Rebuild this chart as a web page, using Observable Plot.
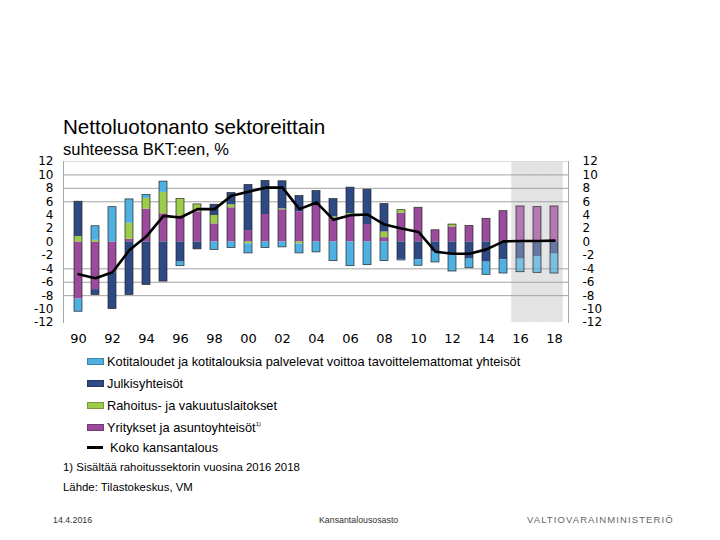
<!DOCTYPE html>
<html>
<head>
<meta charset="utf-8">
<script src="https://cdn.jsdelivr.net/npm/d3@7"></script>
<script src="https://cdn.jsdelivr.net/npm/@observablehq/plot@0.6"></script>
<style>
  body { margin: 0; background: #fff; }
  #wrap { position: relative; width: 720px; height: 540px; overflow: hidden; background: #fff;
          font-family: "Liberation Sans", Arial, sans-serif; color: #000; }
  .abs { position: absolute; white-space: nowrap; line-height: 1; }
  #chart { position: absolute; left: 0; top: 0; }
  .row { position: absolute; left: 87px; height: 16px; display: flex; align-items: center; font-size: 12.8px; white-space: nowrap; }
  .sw { width: 15px; height: 5px; margin-right: 3px; }
  .ln { width: 16px; height: 3px; background: #000; margin-right: 7px; }
</style>
</head>
<body>
<div id="wrap">
  <div id="chart"></div>
  <div class="abs" style="left:63px; top:117px; font-size:20.6px;">Nettoluotonanto sektoreittain</div>
  <div class="abs" style="left:63px; top:141px; font-size:16.5px;">suhteessa BKT:een, %</div>
  <div id="legend"></div>
  <div class="abs" style="left:63px; top:462px; font-size:11.4px;">1) Sisältää rahoitussektorin vuosina 2016 2018</div>
  <div class="abs" style="left:63px; top:482px; font-size:11.4px;">Lähde: Tilastokeskus, VM</div>
  <div class="abs" style="left:53px; top:516px; font-size:8.8px; color:#333;">14.4.2016</div>
  <div class="abs" style="left:319px; top:516px; font-size:8.8px; color:#333;">Kansantalousosasto</div>
  <div class="abs" style="left:527px; top:515px; font-size:9.5px; color:#666; letter-spacing:1.1px;">VALTIOVARAINMINISTERIÖ</div>
</div>
<script>
// ---- data ----
const years = [1990,1991,1992,1993,1994,1995,1996,1997,1998,1999,2000,2001,2002,2003,2004,
               2005,2006,2007,2008,2009,2010,2011,2012,2013,2014,2015,2016,2017,2018];
const forecastYears = [2016, 2017, 2018];

const seriesKoti = "Kotitaloudet ja kotitalouksia palvelevat voittoa tavoittelemattomat yhteisöt";
const seriesJulkis = "Julkisyhteisöt";
const seriesRahoitus = "Rahoitus- ja vakuutuslaitokset";
const seriesYritykset = "Yritykset ja asuntoyhteisöt";
const lineLabel = "Koko kansantalous";

const yritykset = [-8.5,-7.1,-4.6,0.4,4.9,4.2,3.9,4.5,2.7,5.1,1.7,4.1,4.8,4.5,5.5,
                   3.6,4.1,2.6,0.65,4.3,5.1,1.75,2.25,2.4,3.45,4.6,5.3,5.2,5.3];
const rahoitus  = [0.8,0.25,0,2.4,1.6,3.2,2.5,1.1,1.25,0.45,-0.3,0,0.15,-0.3,0,
                   0.15,0.15,0,0.85,0.45,0,0,0.35,0,0,0,0,0,0];
const julkis    = [5.2,-0.8,-5.4,-7.9,-6.4,-5.9,-3.0,-1.1,1.6,1.75,6.8,5.0,4.1,2.35,2.1,
                   2.65,3.85,5.2,4.15,-2.6,-2.65,-1.45,-1.9,-2.55,-3.0,-2.65,-2.55,-2.2,-1.8];
const koti      = [-1.9,2.1,5.2,3.55,0.5,1.6,-0.6,0,-1.2,-0.9,-1.4,-0.9,-0.8,-1.4,-1.55,
                   -2.85,-3.6,-3.45,-2.85,-0.15,-0.9,-1.6,-2.5,-1.35,-1.9,-2.05,-1.95,-2.4,-2.9];
const koko      = [-4.8,-5.4,-4.5,-1.2,0.85,3.9,3.65,4.9,4.9,6.9,7.5,8.1,8.1,4.9,5.9,
                   3.3,4.0,4.1,2.6,2.0,1.5,-1.45,-1.75,-1.75,-1.1,0.1,0.15,0.15,0.2];

const yDomain = [-12, 12];
const yTicks = [-12,-10,-8,-6,-4,-2,0,2,4,6,8,10,12];
const gridValues = [10, 8, 6, -4, -6, -8];
const xTicks = [1990,1992,1994,1996,1998,2000,2002,2004,2006,2008,2010,2012,2014,2016,2018];

// legend order (top to bottom) and stacking order (from zero outward)
const legendOrder = [seriesKoti, seriesJulkis, seriesRahoitus, seriesYritykset];
const stackOrder = [seriesYritykset, seriesRahoitus, seriesJulkis, seriesKoti];
const colors = {
  [seriesKoti]: "#4fb0e2",
  [seriesJulkis]: "#2e4a85",
  [seriesRahoitus]: "#9dcb4c",
  [seriesYritykset]: "#9c4b9c"
};

// ---- build table ----
const valuesBySeries = {
  [seriesYritykset]: yritykset, [seriesRahoitus]: rahoitus,
  [seriesJulkis]: julkis, [seriesKoti]: koti
};
const rows = [];
years.forEach((year, i) => {
  for (const s of stackOrder) rows.push({year, series: s, value: valuesBySeries[s][i]});
});
const isForecast = d => forecastYears.includes(d.year);
const totals = years.map((year, i) => {
  const vals = stackOrder.map(s => valuesBySeries[s][i]);
  return {year, pos: d3.sum(vals.filter(v => v > 0)), neg: d3.sum(vals.filter(v => v < 0))};
});
const lineData = years.map((year, i) => ({year, value: koko[i]}));

const paddingInner = 0.54;
const plotWidth = 720, marginLeft = 63, marginRight = 152;
const step = (plotWidth - marginLeft - marginRight) / years.length;
const gapHalf = step * paddingInner / 2;

const chart = Plot.plot({
  width: plotWidth,
  height: 360,
  marginLeft, marginRight,
  marginTop: 161,
  marginBottom: 38,
  style: {fontFamily: "DejaVu Sans, sans-serif", fontSize: "12px", color: "#000", background: "transparent", overflow: "visible"},
  x: {type: "band", domain: years, paddingInner, paddingOuter: paddingInner / 2, axis: null},
  y: {domain: yDomain, axis: null},
  color: {domain: stackOrder, range: stackOrder.map(s => colors[s])},
  marks: [
    Plot.barY(forecastYears, {x: d => d, y1: yDomain[0], y2: yDomain[1], fill: "#e3e3e3", insetLeft: -gapHalf, insetRight: -gapHalf}),
    Plot.ruleY([yDomain[1]], {stroke: "#dcdcdc"}),
    Plot.ruleY(gridValues, {stroke: "#a3a3a3"}),
    Plot.frame({anchor: "left", stroke: "#a8a8a8"}),
    Plot.frame({anchor: "right", stroke: "#a8a8a8"}),
    Plot.barY(rows.filter(d => !isForecast(d)), Plot.stackY({x: "year", y: "value", fill: "series", order: stackOrder})),
    Plot.barY(rows.filter(isForecast), Plot.stackY({x: "year", y: "value", fill: "series", order: stackOrder, fillOpacity: 0.7})),
    Plot.barY(totals, {x: "year", y1: "neg", y2: "pos", fill: "none", stroke: "#222", strokeWidth: 0.8, strokeOpacity: 0.85}),
    Plot.line(lineData, {x: "year", y: "value", stroke: "#000", strokeWidth: 2.6}),
    Plot.axisY({anchor: "left", ticks: yTicks, tickSize: 0, tickPadding: 10, tickFormat: d => String(d), label: null}),
    Plot.axisY({anchor: "right", ticks: yTicks, tickSize: 0, tickPadding: 14, tickFormat: d => String(d), label: null}),
    Plot.axisX({ticks: xTicks, tickSize: 0, tickPadding: 11, tickFormat: d => String(d).slice(2), label: null, fontSize: 13})
  ]
});
document.getElementById("chart").appendChild(chart);

// ---- legend ----
const legend = document.getElementById("legend");
const rowCenters = [361, 383, 405, 427];
legendOrder.forEach((s, i) => {
  const r = document.createElement("div");
  r.className = "row";
  r.style.top = (rowCenters[i] - 8) + "px";
  const sw = document.createElement("div");
  sw.className = "sw";
  sw.style.background = colors[s];
  sw.style.border = "0.5px solid " + d3.color(colors[s]).darker(0.8);
  r.appendChild(sw);
  const t = document.createElement("span");
  t.textContent = s;
  r.appendChild(t);
  if (s === seriesYritykset) {
    const sup = document.createElement("span");
    sup.textContent = "1)";
    sup.style.fontSize = "6px";
    sup.style.alignSelf = "flex-start";
    sup.style.marginTop = "2px";
    r.appendChild(sup);
  }
  legend.appendChild(r);
});
const lr = document.createElement("div");
lr.className = "row";
lr.style.top = (447 - 8) + "px";
const ln = document.createElement("div");
ln.className = "ln";
lr.appendChild(ln);
const lt = document.createElement("span");
lt.textContent = lineLabel;
lr.appendChild(lt);
legend.appendChild(lr);
</script>
</body>
</html>
